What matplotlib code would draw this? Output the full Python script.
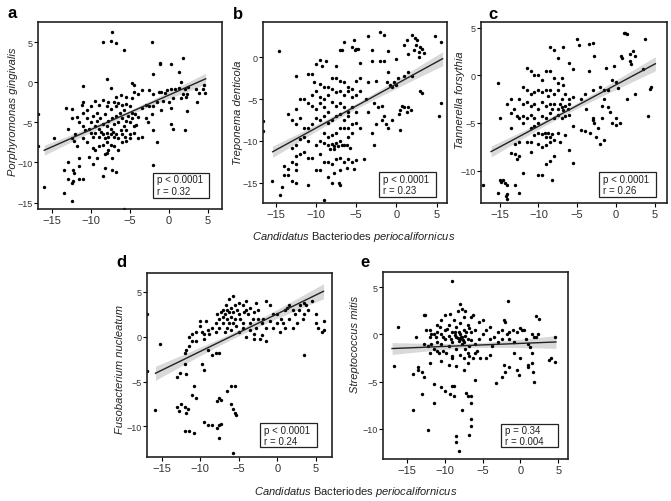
import numpy as np
import matplotlib
matplotlib.use('Agg')
from matplotlib import pyplot as plt
from matplotlib.patches import Rectangle

plt.rcParams['font.family'] = ['Liberation Sans', 'DejaVu Sans']
plt.rcParams['mathtext.fontset'] = 'custom'
plt.rcParams['mathtext.it'] = 'Liberation Sans:italic'
plt.rcParams['mathtext.rm'] = 'Liberation Sans'

# points: (C. B. periocalifornicus, species)
pg_points = [
    (-8.5, 5.0), (-7.3, 6.3), (-7.5, 5.1), (-6.8, 4.9), (-5.8, 4.0), (-2.2, 5.0), (-1.2, 2.4), (-1.1, 2.3),
    (0.2, 2.3), (1.8, 3.0), (1.3, 1.3), (-2.0, 1.0), (-8.0, 0.4), (-11.0, -0.5), (-7.5, -0.7), (-4.8, -0.1),
    (-4.5, -0.3), (-3.5, -1.0), (-2.5, -1.0), (-2.0, -1.5), (-1.3, -1.2), (-1.0, -1.2), (-0.5, -1.3),
    (-0.2, -1.0), (0.3, -0.8), (0.8, -0.8), (1.3, -0.7), (1.6, 0.0), (2.0, -0.9), (2.3, -1.5), (2.2, -1.8),
    (3.5, -0.8), (3.8, -1.3), (4.5, -0.3), (4.6, -1.4), (4.3, -0.9), (2.5, -0.6), (1.8, -1.5), (1.5, -2.0),
    (0.5, -2.0), (-0.8, -2.3), (-1.5, -2.5), (0.0, -2.5), (-4.5, -1.2), (-4.0, -1.5), (-4.8, -2.0),
    (-5.5, -1.8), (-6.2, -1.6), (-6.8, -1.9), (-3.0, -2.8), (-2.5, -3.0), (-3.5, -3.2), (-2.0, -3.0),
    (-1.0, -3.5), (0.3, -3.2), (2.3, -3.6), (3.6, -2.5), (2.0, -6.0), (0.2, -5.2), (0.5, -5.8), (-1.5, -7.5),
    (-2.2, -4.0), (-3.0, -4.5), (-2.0, -6.0), (-3.5, -6.8), (-2.7, -5.0), (-2.0, -10.3),
    (-11.0, -2.5), (-11.2, -2.8), (-12.5, -3.3), (-13.2, -3.2), (-12.5, -4.5), (-11.8, -4.3), (-11.0, -3.8),
    (-10.5, -3.5), (-10.0, -3.0), (-9.5, -2.3), (-9.2, -3.8), (-9.0, -2.8), (-8.5, -2.2), (-8.0, -3.0),
    (-7.8, -2.5), (-7.5, -3.3), (-7.0, -2.5), (-6.8, -3.0), (-6.5, -2.6), (-6.0, -2.8), (-5.8, -3.5),
    (-5.5, -2.7), (-5.0, -3.0), (-4.7, -3.8), (-4.3, -4.0), (-4.0, -4.3),
    (-10.5, -4.5), (-10.0, -5.0), (-9.7, -4.2), (-9.5, -5.5), (-9.2, -4.8), (-9.0, -5.8), (-8.8, -4.5),
    (-8.5, -5.2), (-8.2, -4.0), (-8.0, -5.5), (-7.8, -4.8), (-7.5, -5.8), (-7.3, -4.5), (-7.0, -5.2),
    (-6.8, -4.2), (-6.5, -5.0), (-6.3, -3.8), (-6.0, -4.5), (-5.8, -5.5), (-5.5, -4.8), (-5.3, -4.2),
    (-5.0, -5.0), (-4.8, -4.5), (-4.5, -5.5), (-4.2, -5.3),
    (-11.5, -5.0), (-11.0, -5.5), (-10.8, -6.0), (-10.3, -5.8), (-10.0, -6.3), (-9.8, -6.8), (-9.5, -6.3),
    (-9.0, -6.8), (-8.7, -6.2), (-8.5, -6.5), (-8.2, -7.0), (-8.0, -6.3), (-7.8, -6.8), (-7.5, -6.5),
    (-7.2, -6.2), (-7.0, -6.8), (-6.8, -6.5), (-6.5, -7.0), (-6.2, -6.0), (-6.0, -6.5), (-5.7, -6.8),
    (-5.5, -6.0), (-5.0, -6.5), (-4.5, -6.3), (-4.0, -7.0),
    (-12.0, -6.5), (-12.5, -7.0), (-12.2, -7.3), (-11.8, -8.0), (-11.0, -7.0), (-10.5, -7.5), (-9.8, -8.2),
    (-9.5, -8.5), (-9.0, -8.0), (-8.5, -7.8), (-8.0, -7.5), (-7.5, -7.8), (-7.0, -8.0), (-6.5, -8.5),
    (-6.0, -7.5), (-5.5, -7.3), (-5.0, -7.0), (-7.8, -8.5), (-8.2, -9.0), (-9.2, -9.5), (-8.0, -8.8),
    (-14.8, -7.0), (-13.0, -5.8), (-10.2, -9.3), (-11.5, -9.5), (-11.5, -10.5), (-12.3, -11.0),
    (-12.2, -11.3), (-13.0, -10.0), (-13.5, -11.0), (-13.0, -12.0), (-12.3, -12.3), (-12.5, -12.5),
    (-11.5, -12.0), (-11.0, -12.0), (-9.8, -10.2), (-8.5, -11.7), (-8.2, -10.7), (-7.3, -9.4), (-7.3, -11.0),
    (-6.8, -11.2), (-16.0, -13.0), (-13.5, -13.8), (-12.5, -14.8), (-5.8, -15.8), (-16.8, -4.0), (-16.8, -8.0),
]

td_points = [
    (-14.6, 0.7), (-16.6, -7.6), (-16.6, -8.8), (-15.5, -14.8),
    (-8.8, -0.5), (-9.5, -0.3), (-10.0, -0.8), (-9.3, -1.0), (-7.5, -1.0), (-7.0, 0.8), (-6.8, 0.8), (-6.5, 1.8),
    (-5.5, 1.2), (-5.0, 1.0), (-5.2, 0.8), (-4.8, 1.0), (-5.3, 2.0), (-4.5, -0.7), (-3.5, 2.5), (-3.0, 0.8),
    (-2.0, 3.0), (-1.5, 2.7), (-1.0, 0.7), (-1.5, -0.5), (-2.0, -0.5), (-3.0, -0.5), (0.0, -0.2), (1.3, 2.0),
    (1.0, 1.5), (2.0, 2.6), (2.3, 2.3), (2.6, 2.0), (2.5, 1.5), (2.2, 0.8), (3.0, 1.2), (3.2, 1.0), (2.8, 0.6),
    (3.4, 0.5), (4.8, 2.5), (5.5, 1.8), (2.8, 0.0), (1.5, 0.4),
    (-1.0, -1.8), (0.2, -2.5), (1.0, -2.3), (2.0, -2.3), (-1.2, -3.0), (-0.8, -3.3), (-0.5, -3.5), (0.0, -3.3),
    (-0.3, -3.0), (1.5, -1.8), (-2.5, -2.8), (-3.5, -3.0), (-4.5, -2.5), (-4.5, -4.0), (-3.8, -5.0),
    (-2.8, -5.5), (-1.8, -5.8), (-2.3, -6.0), (-1.5, -7.0), (-0.5, -7.5), (-1.8, -7.5), (-1.3, -8.0),
    (0.7, -5.8), (1.0, -6.0), (1.5, -5.9), (0.5, -6.3), (0.3, -6.8), (1.3, -6.5), (1.8, -6.3), (3.0, -4.0),
    (3.2, -4.3), (5.5, -5.5), (5.3, -7.0), (0.5, -8.7), (-1.0, -8.5), (-2.5, -8.0), (-3.0, -9.0), (-3.5, -6.5),
    (-2.8, -10.5), (-4.0, -12.2),
    (-12.5, -2.3), (-11.0, -2.0), (-10.5, -2.0), (-10.2, -3.0), (-9.5, -3.2), (-9.0, -3.5), (-8.5, -3.5),
    (-8.0, -2.5), (-7.5, -2.5), (-7.0, -2.8), (-6.5, -3.0), (-6.0, -3.5), (-5.5, -3.8), (-5.0, -2.8),
    (-8.0, -3.8), (-7.5, -4.2), (-7.0, -4.0), (-6.5, -4.5), (-6.0, -4.0), (-5.5, -4.8), (-5.0, -4.5),
    (-10.5, -4.5), (-10.0, -4.0), (-9.5, -4.8), (-9.0, -5.0), (-8.5, -4.5), (-11.5, -5.0), (-12.0, -5.0),
    (-12.5, -6.2), (-11.0, -5.5), (-10.5, -5.8), (-10.0, -6.2), (-9.5, -5.5), (-9.0, -6.0), (-8.5, -6.5),
    (-8.0, -5.3), (-7.5, -5.8), (-7.0, -5.5), (-6.5, -6.0), (-6.0, -6.5), (-5.5, -6.0), (-5.0, -6.5),
    (-7.0, -6.8), (-6.5, -7.5), (-6.0, -7.0), (-7.5, -7.0), (-8.0, -7.5), (-8.5, -7.8), (-9.0, -7.0),
    (-9.5, -7.5), (-10.0, -7.2), (-10.5, -8.0), (-11.0, -8.5), (-11.5, -8.5), (-12.5, -8.0), (-13.0, -7.5),
    (-13.5, -6.8), (-12.0, -7.3),
    (-7.0, -8.5), (-6.5, -8.5), (-6.0, -8.5), (-5.5, -8.0), (-5.0, -7.8), (-4.5, -8.5), (-7.5, -9.0),
    (-8.0, -9.3), (-8.5, -9.5), (-9.0, -9.0), (-9.5, -10.0), (-9.0, -10.2), (-8.5, -10.5), (-8.0, -10.3),
    (-7.8, -10.6), (-7.5, -10.2), (-7.3, -10.6), (-7.0, -10.0), (-6.8, -10.5), (-6.5, -10.5), (-6.2, -10.5),
    (-6.0, -9.5), (-5.8, -10.8), (-5.5, -9.0), (-7.8, -11.0), (-8.2, -11.0), (-10.0, -10.5), (-11.0, -10.0),
    (-11.5, -9.5), (-12.0, -9.8), (-12.5, -10.5), (-13.0, -10.8), (-9.5, -11.5),
    (-12.0, -11.5), (-12.5, -11.8), (-11.5, -11.3), (-11.0, -12.0), (-13.0, -12.5), (-12.5, -12.8),
    (-10.5, -12.0), (-9.0, -12.5), (-8.5, -12.5), (-8.0, -12.8), (-7.5, -12.2), (-7.0, -12.0), (-6.5, -12.5),
    (-6.0, -12.2), (-5.5, -12.5), (-5.0, -12.3), (-6.2, -13.2), (-5.3, -13.3), (-7.0, -13.5), (-7.8, -13.8),
    (-8.5, -14.3), (-9.5, -13.5), (-10.0, -13.5), (-12.5, -13.5), (-13.5, -14.0), (-14.0, -13.0),
    (-13.5, -13.3), (-14.0, -14.0), (-13.0, -14.8), (-12.5, -15.0), (-11.0, -15.2), (-7.2, -15.0),
    (-7.0, -15.3), (-8.0, -15.0), (-14.2, -15.5), (-14.5, -16.5), (-9.0, -17.0),
]

tf_points = [
    (-17.1, -11.5), (-15.2, -0.8),
    (-8.5, 3.0), (-8.0, 2.7), (-6.8, 3.0), (-5.0, 3.8), (-4.8, 3.2), (-3.5, 3.3), (-3.0, 3.4), (-2.8, 2.0),
    (-6.0, 1.3), (-7.5, 1.8), (-5.5, 0.7), (-3.5, 0.5), (-1.3, 0.8), (0.7, 2.0), (1.0, 4.4), (1.2, 4.4),
    (1.5, 4.3), (1.8, 2.2), (2.2, 2.6), (2.5, 2.0), (1.8, 1.5), (2.0, 1.2), (3.7, 3.8), (0.8, 1.8),
    (-0.3, 1.0), (3.5, 0.7), (4.5, -1.2), (4.4, -1.4), (4.2, -4.3), (2.5, -2.0), (1.5, -2.5), (0.3, -1.3),
    (0.0, -0.7), (-0.5, -0.5), (-1.0, -1.5), (-1.5, -1.5), (-2.0, -1.2), (-1.0, -3.3), (-1.5, -2.5),
    (-1.8, -3.2), (-0.8, -3.8), (0.0, -4.5), (0.0, -5.2), (-0.5, -5.0), (0.5, -5.0), (-1.8, -4.5),
    (-2.3, -5.5), (-3.0, -4.5), (-3.0, -4.7), (-2.8, -5.0), (-4.0, -5.8), (-3.3, -6.0), (-2.5, -6.5),
    (-1.5, -6.8), (-2.0, -7.2), (-3.8, -3.5), (-4.0, -2.0), (-4.5, -2.5), (-5.5, -2.3), (-3.0, -1.5),
    (-5.5, -5.3), (-4.5, -5.7), (-5.5, -9.2), (-6.5, -6.3), (-6.0, -7.8),
    (-12.0, -1.2), (-11.5, 0.8), (-11.0, 0.5), (-10.5, 0.0), (-10.0, 0.0), (-9.5, -0.5), (-9.0, 0.5),
    (-8.5, 0.5), (-8.0, -0.3), (-7.5, -0.8), (-7.0, -0.3), (-6.8, -1.0), (-11.5, -1.5), (-11.0, -2.0),
    (-10.5, -1.8), (-10.0, -1.5), (-9.5, -1.8), (-9.0, -1.5), (-8.8, -2.2), (-8.5, -1.5), (-8.0, -2.0),
    (-7.5, -1.5), (-7.0, -2.5), (-6.5, -2.0), (-6.0, -2.5), (-12.5, -2.5), (-12.0, -3.0), (-11.5, -2.8),
    (-11.0, -3.2), (-10.5, -3.0), (-10.0, -3.5), (-9.5, -2.8), (-9.0, -3.2), (-8.5, -3.0), (-8.2, -3.5),
    (-8.0, -3.0), (-7.5, -3.5), (-7.2, -3.0), (-7.0, -3.3), (-6.8, -3.6), (-6.5, -3.2), (-6.2, -3.5),
    (-6.0, -3.0),
    (-13.5, -2.5), (-14.0, -3.0), (-13.2, -3.5), (-13.5, -4.0), (-12.8, -4.3), (-12.5, -4.5), (-12.0, -4.3),
    (-11.5, -4.5), (-11.0, -4.2), (-10.5, -4.5), (-10.0, -5.0), (-9.5, -4.3), (-9.0, -4.5), (-8.5, -4.0),
    (-8.0, -4.5), (-7.5, -4.2), (-7.0, -4.5), (-6.5, -4.3), (-6.0, -4.2), (-13.5, -5.5), (-15.0, -4.5),
    (-12.0, -5.0), (-11.0, -5.5), (-10.5, -5.3), (-10.0, -6.0), (-9.5, -6.2), (-9.2, -6.0), (-9.0, -6.5),
    (-8.8, -6.0), (-8.5, -6.5), (-8.2, -6.2), (-8.0, -6.8), (-7.5, -6.0), (-7.2, -7.0), (-10.5, -6.3),
    (-11.0, -7.0), (-11.5, -7.0), (-12.5, -7.0), (-13.0, -7.2), (-10.0, -7.2), (-9.5, -7.5), (-9.0, -7.3),
    (-8.5, -7.0), (-11.0, -8.0), (-12.5, -8.5), (-13.0, -8.3), (-13.5, -8.2), (-12.8, -8.8), (-9.0, -9.3),
    (-8.5, -9.0), (-8.0, -8.5), (-8.2, -11.0), (-9.5, -10.5), (-10.0, -10.5), (-12.0, -10.3),
    (-15.0, -11.0), (-14.8, -11.2), (-14.5, -11.0), (-14.3, -11.3), (-14.0, -11.5), (-15.2, -12.3),
    (-14.0, -12.5), (-14.2, -12.7), (-14.0, -13.0), (-12.5, -12.3), (-13.0, -11.5),
]

fn_points = [
    (-15.8, -8.2), (-15.2, -0.8), (-16.9, 2.5), (-16.9, -3.8),
    (-13.0, -4.5), (-12.6, -4.0), (-12.0, -3.0), (-11.8, -4.2), (-13.0, -7.8), (-12.8, -8.3), (-12.5, -7.5),
    (-12.0, -7.8), (-11.8, -8.5), (-11.6, -8.0), (-11.0, -6.5), (-10.8, -5.5), (-10.5, -6.8), (-12.0, -10.5),
    (-11.5, -10.5), (-10.8, -10.7), (-9.5, -9.5), (-9.0, -9.8), (-8.5, -9.8), (-7.8, -10.2), (-7.5, -9.8),
    (-7.3, -9.7), (-7.5, -11.3), (-7.8, -7.2), (-7.5, -6.8), (-7.3, -7.0), (-6.5, -6.0), (-6.0, -5.5),
    (-5.5, -5.5), (-6.0, -7.5), (-5.8, -8.0), (-5.5, -8.5), (-5.3, -8.7), (-5.8, -13.0), (-9.5, -3.7),
    (-9.8, -3.0),
    (-12.0, -1.8), (-11.8, -1.5), (-11.5, -1.0), (-11.5, 0.0), (-11.0, -0.5), (-11.0, 0.3), (-10.5, -0.5),
    (-10.5, 0.5), (-10.0, 1.2), (-10.0, 1.8), (-9.8, 0.5), (-9.5, 0.3), (-9.5, -0.3), (-9.3, 1.8), (-9.0, 0.8),
    (-9.0, -1.5), (-8.8, 0.3), (-8.5, 1.0), (-8.5, -2.0), (-8.0, 0.5), (-8.0, 1.5), (-8.0, -1.8), (-7.8, 2.5),
    (-7.5, 1.0), (-7.5, 2.0), (-7.5, -1.8), (-7.3, 2.8), (-7.0, 1.5), (-7.0, 2.2), (-7.0, 3.0), (-6.8, 0.5),
    (-6.8, 2.5), (-6.7, 3.5), (-6.5, 1.0), (-6.5, 2.0), (-6.5, 3.0), (-6.3, 1.5), (-6.3, 2.8), (-6.2, 4.2),
    (-6.0, 2.2), (-6.0, 3.2), (-6.0, 0.8), (-5.8, 4.5), (-5.8, 1.5), (-5.7, 2.7), (-5.5, 3.5), (-5.5, 2.0),
    (-5.3, 1.2), (-5.2, 3.0), (-5.0, 3.8), (-5.0, 2.5), (-5.0, 0.5), (-4.8, 2.0), (-4.5, 3.5), (-4.5, 1.5),
    (-4.3, 2.8), (-4.0, 3.0), (-4.0, 4.0), (-3.8, 2.5), (-3.5, 0.8), (-3.5, 1.5), (-3.2, 2.0), (-3.0, 2.8),
    (-3.0, 0.3), (-2.8, 1.0), (-2.5, 2.0), (-2.5, 3.0), (-2.3, -0.2), (-2.0, 1.5), (-1.8, 2.0), (-1.5, -0.5),
    (-1.5, 1.0),
    (-1.5, 4.0), (-1.0, 3.5), (-0.5, 2.5), (0.0, 1.5), (0.0, 2.5), (0.5, 2.0), (0.8, 1.5), (1.0, 3.0),
    (1.3, 3.2), (1.5, 2.0), (1.5, 3.5), (2.0, 3.0), (2.3, 2.5), (2.5, 1.5), (2.0, 1.0), (2.8, 3.0), (3.0, 3.5),
    (3.3, 2.0), (3.5, 3.8), (3.7, 3.5), (3.5, 2.5), (4.0, 3.0), (4.5, 4.0), (5.0, 1.5), (5.0, 2.5), (5.3, 1.0),
    (6.0, 1.8), (6.0, 0.8), (5.8, 0.5), (3.5, -2.0), (-0.5, 1.0), (0.3, 0.5), (1.0, 1.0), (-1.0, 1.8),
    (-2.0, 0.2), (-3.0, -0.3), (-4.0, 0.0), (-4.5, 1.0), (-2.8, 3.8), (-3.5, 3.2),
]

sm_points = [
    (-16.2, 0.8), (-16.8, -3.4), (-14.2, -4.2), (-14.2, -8.0), (-13.8, -0.3), (-13.5, -3.5), (-13.5, -3.8),
    (-12.8, 2.0), (-12.7, 2.0), (-13.0, -4.0), (-12.8, -4.5), (-13.0, -6.3), (-12.2, -10.1), (-12.0, -3.0),
    (-11.5, -5.3), (-11.5, -7.3), (-10.5, -5.6), (-10.0, -6.0), (-9.0, -5.5), (-8.8, -5.5), (-9.3, -6.3),
    (-8.8, -6.5), (-8.5, -10.8), (-8.5, -11.4), (-8.2, -12.3), (-7.8, -8.0), (-7.2, -6.2), (-7.0, -6.5),
    (-6.5, -6.5), (-6.5, -7.3), (-6.5, -9.0), (-6.5, -9.7), (-6.8, -10.7), (-6.0, -4.8), (-7.0, -3.0),
    (-7.5, -3.8),
    (-12.5, 0.5), (-12.0, 0.5), (-12.0, -0.3), (-11.8, -1.0), (-11.5, 0.0), (-11.5, -1.5), (-11.0, 1.0),
    (-11.0, 0.3), (-11.0, -0.8), (-10.8, -2.0), (-10.5, 1.5), (-10.5, 0.0), (-10.5, -1.0), (-10.3, -1.8),
    (-10.0, 2.0), (-10.0, 0.5), (-10.0, -0.5), (-9.8, -2.0), (-9.5, 1.0), (-9.5, -0.2), (-9.5, -1.2),
    (-9.3, 2.2), (-9.0, 0.3), (-9.0, -0.8), (-9.0, -2.5), (-8.8, 1.5), (-8.5, 0.8), (-8.5, -0.3), (-8.5, -1.5),
    (-8.3, 2.5), (-8.2, -0.7), (-8.0, 3.2), (-8.0, 0.0), (-8.0, -0.5), (-8.0, 1.2), (-7.8, 2.7), (-7.8, -1.0),
    (-7.7, -0.3), (-7.5, 0.5), (-7.5, -0.8), (-7.5, 1.8), (-7.3, -0.2), (-7.3, -1.5), (-7.2, 0.2), (-7.0, 1.0),
    (-7.0, -0.5), (-7.0, -2.0), (-6.8, 0.7), (-6.8, -1.2), (-6.5, 0.2), (-6.5, -0.6), (-6.5, 1.8), (-6.3, 2.0),
    (-6.3, -2.5), (-6.0, -2.0), (-6.0, 0.5), (-6.0, -1.0), (-5.8, -1.8), (-5.5, 1.3), (-5.5, -0.5),
    (-5.3, -2.5), (-5.0, 1.5), (-5.0, 0.0), (-9.2, -0.5), (-8.7, -0.1), (-8.3, -0.4), (-7.9, -0.3),
    (-7.6, -0.6), (-8.1, 0.3), (-8.6, 0.2), (-9.7, 0.6), (-10.2, -0.3), (-10.7, 0.8), (-11.2, -0.3),
    (-11.8, 0.0), (-12.3, -1.2), (-12.8, -1.0), (-12.0, -2.0), (-11.0, -1.8), (-9.0, -2.3), (-8.0, -2.2),
    (-7.5, -2.5), (-6.8, -2.3), (-9.5, -3.2), (-8.5, -3.3), (-10.5, -2.8),
    (-4.5, 0.5), (-4.0, 0.8), (-4.0, -0.5), (-3.8, -1.2), (-3.5, -0.3), (-3.0, 0.3), (-3.0, -0.8), (-2.5, -0.5),
    (-2.5, 0.5), (-2.2, 1.5), (-2.0, 1.3), (-1.8, 0.0), (-1.5, -0.5), (-1.5, 0.3), (-1.0, 0.5), (-0.8, -0.8),
    (-0.5, 0.3), (0.0, 0.7), (0.2, 0.5), (0.5, 0.5), (0.8, -0.5), (1.0, -1.0), (1.3, -1.3), (1.5, 0.0),
    (1.8, -0.3), (2.0, 1.9), (2.5, 1.6), (2.3, 0.0), (2.0, -0.3), (-1.7, 3.5), (-4.0, -2.2), (-4.5, -2.5),
    (-3.3, -5.2), (-2.5, -4.5), (-2.0, -4.0), (-2.2, -3.2), (-1.5, -3.5), (-0.8, -2.0), (-0.5, -3.8),
    (-0.2, -4.3), (0.0, -2.5), (1.0, -3.5), (1.0, -3.2), (1.5, -2.0), (1.5, -3.0), (1.7, -4.0), (1.8, -5.0),
    (3.8, -2.7), (4.0, -2.5), (4.6, -0.3), (4.6, -2.9), (-9.0, 5.7), (-7.3, 2.5),
]

letters = ['a', 'b', 'c', 'd', 'e']
species = ['Porphyromonas gingivalis', 'Treponema denticola', 'Tannerella forsythia',
           'Fusobacterium nucleatum', 'Streptococcus mitis']
p_text = ['p < 0.0001', 'p < 0.0001', 'p < 0.0001', 'p < 0.0001', 'p = 0.34']
r_text = ['r = 0.32', 'r = 0.23', 'r = 0.26', 'r = 0.24', 'r = 0.004']
# fitted line: slope, intercept, x start, x end
fits = [(0.43, -1.6, -16.0, 4.7), (0.525, -3.2, -15.4, 5.75), (0.435, -1.0, -16.1, 5.1),
        (0.419, 2.55, -15.8, 6.0), (0.032, -0.96, -17.0, 4.7)]
all_points = [pg_points, td_points, tf_points, fn_points, sm_points]

# layout in pixels: left, top, right, bottom of each panel box
boxes = [(38, 23, 222, 210), (263, 23, 447, 204), (481, 23, 667, 204),
         (147, 274, 332, 458), (383, 273, 568, 460)]
xlims = [(-16.8, 6.8), (-16.6, 6.3), (-17.4, 6.6), (-16.9, 7.1), (-18.2, 6.3)]
ylims = [(-15.8, 7.5), (-17.4, 4.2), (-13.4, 5.6), (-13.4, 7.1), (-13.2, 6.6)]
yticks = [[-15, -10, -5, 0, 5], [-15, -10, -5, 0], [-10, -5, 0, 5], [-10, -5, 0, 5], [-10, -5, 0, 5]]
letter_pos = [(7, 18), (233, 19), (488, 19), (116, 267), (360, 267)]
ylabel_pos = [(13, 112), (238, 113), (460, 100), (120, 370), (355, 344)]
stat_boxes = [(0.625, 0.06, 0.305, 0.135), (0.63, 0.035, 0.31, 0.135), (0.634, 0.035, 0.306, 0.135),
              (0.61, 0.054, 0.31, 0.13), (0.64, 0.064, 0.305, 0.123)]

W, H = 671, 502
fig = plt.figure(figsize=(W / 100, H / 100), dpi=100)

for i in range(5):
    l, t, r, b = boxes[i]
    ax = fig.add_axes([l / W, 1 - b / H, (r - l) / W, (b - t) / H])
    pts = np.array(all_points[i])
    x, y = pts[:, 0], pts[:, 1]
    slope, icpt, x0, x1 = fits[i]

    # confidence band around the line (narrowed, the original had more samples)
    n = len(x)
    resid = y - (icpt + slope * x)
    s = np.sqrt(np.sum(resid ** 2) / (n - 2))
    sxx = np.sum((x - x.mean()) ** 2)
    xs = np.linspace(x0, x1, 100)
    fit = icpt + slope * xs
    half = 1.1 * s * np.sqrt(1. / n + (xs - x.mean()) ** 2 / sxx)
    ax.fill_between(xs, fit - half, fit + half, color='#d9d9d9', lw=0, zorder=1)
    ax.scatter(x, y, s=6, color='black', lw=0, zorder=2)
    ax.plot(xs, fit, color='#222222', lw=1, zorder=3)

    ax.set_xlim(xlims[i])
    ax.set_ylim(ylims[i])
    ax.set_xticks([-15, -10, -5, 0, 5])
    ax.set_yticks(yticks[i])
    ax.tick_params(axis='x', labelsize=8, length=3, width=0.8, pad=1.5, labelcolor='#333333')
    ax.tick_params(axis='y', labelsize=6.5, length=3, width=0.8, pad=1, labelcolor='#333333')
    for sp in ax.spines.values():
        sp.set_linewidth(1.2)
        sp.set_color('#222222')

    bx, by, bw, bh = stat_boxes[i]
    ax.add_patch(Rectangle((bx, by), bw, bh, transform=ax.transAxes, fill=True,
                           facecolor='white', edgecolor='#222222', lw=0.9, zorder=4))
    ax.text(bx + 0.02, by + bh * 0.73, p_text[i], transform=ax.transAxes, fontsize=7,
            va='center', ha='left', color='#222222', zorder=5)
    ax.text(bx + 0.02, by + bh * 0.27, r_text[i], transform=ax.transAxes, fontsize=7,
            va='center', ha='left', color='#222222', zorder=5)

    lx, ly = letter_pos[i]
    fig.text(lx / W, 1 - ly / H, letters[i], fontsize=12, fontweight='bold', ha='left', va='baseline')
    yx, yy = ylabel_pos[i]
    fig.text(yx / W, 1 - yy / H, species[i], fontsize=8, style='italic', rotation=90,
             ha='center', va='center', color='#222222')

xlab = r'$\it{Candidatus}$ Bacteriodes $\it{periocalifornicus}$'
fig.text(354 / W, 1 - 237 / H, xlab, fontsize=8, ha='center', va='center', color='#222222')
fig.text(356 / W, 1 - 492 / H, xlab, fontsize=8, ha='center', va='center', color='#222222')

fig.savefig('out.png', dpi=100)
